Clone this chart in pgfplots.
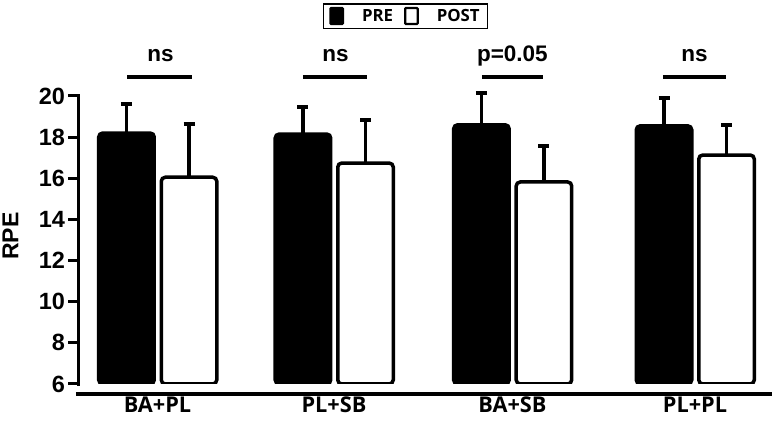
\documentclass[border=0pt]{standalone}
\usepackage{fontspec}
\setmainfont{Liberation Sans}
\newfontfamily\opensans{Open Sans}
\usepackage{pgfplots}
\usepackage{pgfplotstable}
\pgfplotsset{compat=1.18}

\pgfplotstableread{
xpre pre preerr xpost post posterr
-0.173 18.2 1.42 0.176 16.05 2.59
0.812 18.15 1.33 1.161 16.74 2.09
1.808 18.6 1.53 2.157 15.82 1.75
2.827 18.55 1.34 3.176 17.13 1.46
}\datatable

\begin{document}
\begin{tikzpicture}
\begin{axis}[
  x=179.17pt, y=20.57pt,
  xmin=-0.441, xmax=3.429, ymin=6, ymax=20.3,
  axis x line*=bottom, axis y line*=left,
  x axis line style={draw=none}, y axis line style={draw=none},
  clip mode=individual,
  xtick={0,0.985,1.981,3},
  xticklabels={BA+PL,PL+SB,BA+SB,PL+PL},
  x tick style={draw=none},
  ytick={6,8,...,20},
  y tick style={line width=3pt, black},
  tick align=outside, major tick length=10pt,
  yticklabel style={font=\bfseries\fontsize{23.5}{24}\selectfont},
  /pgf/number format/assume math mode=true,
  xticklabel style={font=\opensans\bfseries\fontsize{21.7}{22}\selectfont, anchor=base, yshift=-19pt},
  ylabel={RPE},
  every axis y label/.style={at={(axis description cs:-0.098,0.503)}, rotate=90, anchor=center, font=\bfseries\fontsize{23}{24}\selectfont},
  legend columns=2,
  legend style={at={(axis description cs:0.4716,1.2508)}, anchor=center, draw=black, line width=1.2pt,
    font=\opensans\bfseries\fontsize{16.8}{17}\selectfont, inner xsep=6pt, inner ysep=3pt,
    /tikz/every even column/.append style={column sep=9pt},
    /tikz/every odd column/.append style={column sep=16pt}},
  legend image code/.code={\draw[#1, line width=2.2pt, rounded corners=0.8pt] (0pt,-8pt) rectangle (12.5pt,8pt);},
]
\addplot[ybar, bar width=55.5pt, bar shift=0pt, fill=black, draw=black, line width=3.5pt, rounded corners=4pt,
  error bars/.cd, y dir=plus, y explicit,
  error bar style={line width=3.5pt, black, solid, sharp corners},
  error mark options={rotate=90, line width=4pt, mark size=5.5pt, black, solid}]
  table[x=xpre, y=pre, y error=preerr]{\datatable};
\addlegendentry{PRE}
\addplot[ybar, bar width=55.5pt, bar shift=0pt, fill=white, draw=black, line width=3.5pt, rounded corners=4pt,
  error bars/.cd, y dir=plus, y explicit,
  error bar style={line width=3.5pt, black, solid, sharp corners},
  error mark options={rotate=90, line width=4pt, mark size=5.5pt, black, solid}]
  table[x=xpost, y=post, y error=posterr]{\datatable};
\addlegendentry{POST}

% axes lines
\draw[line width=3.5pt, line cap=rect] (axis cs:-0.441,6) -- (axis cs:-0.441,20);
\draw[line width=4.5pt] (axis cs:-0.455,5.51) -- (axis cs:3.429,5.51);

% significance annotations
\draw[line width=4pt] (axis cs:-0.168,20.92) -- (axis cs:0.19,20.92);
\draw[line width=4pt] (axis cs:0.812,20.92) -- (axis cs:1.170,20.92);
\draw[line width=4pt] (axis cs:1.811,20.92) -- (axis cs:2.151,20.92);
\draw[line width=4pt] (axis cs:2.821,20.92) -- (axis cs:3.173,20.92);
\node[anchor=base, font=\bfseries\fontsize{22.5}{23}\selectfont] at (axis cs:0.017,21.653) {ns};
\node[anchor=base, font=\bfseries\fontsize{22.5}{23}\selectfont] at (axis cs:0.993,21.653) {ns};
\node[anchor=base, font=\bfseries\fontsize{22.5}{23}\selectfont] at (axis cs:1.981,21.653) {p=0.05};
\node[anchor=base, font=\bfseries\fontsize{22.5}{23}\selectfont] at (axis cs:2.997,21.653) {ns};

\coordinate (bbA) at (axis cs:-0.879,24.667);
\coordinate (bbB) at (axis cs:3.441,3.909);
\end{axis}
\pgfresetboundingbox
\path[use as bounding box] (bbA) rectangle (bbB);
\end{tikzpicture}
\end{document}
